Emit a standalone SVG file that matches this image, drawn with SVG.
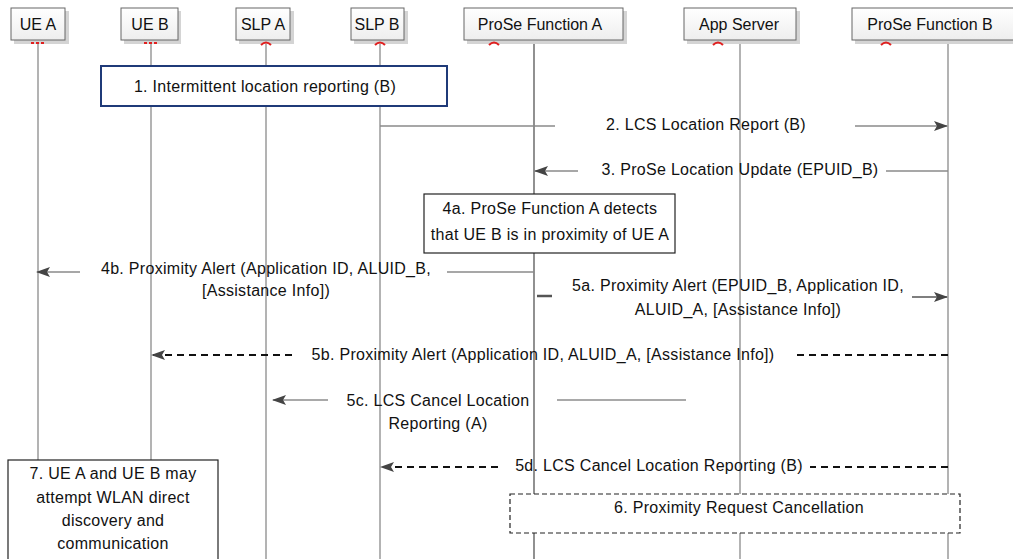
<svg xmlns="http://www.w3.org/2000/svg" width="1013" height="559" viewBox="0 0 1013 559">
<style>
text{font-family:"Liberation Sans",Arial,sans-serif;font-size:16px;fill:#111;letter-spacing:0.3px;}
.h{letter-spacing:0;}
.c{text-anchor:middle;}
.hdr{fill:url(#hg);stroke:#666;stroke-width:1;}
.shd{fill:#d4d4d4;}
.life{stroke:#8a8a8a;stroke-width:1.3;fill:none;}
.msg{stroke:#8a8a8a;stroke-width:1.5;fill:none;}
.dash{stroke:#111;stroke-width:2;stroke-dasharray:7,5;fill:none;}
.box{fill:#fff;stroke:#222;stroke-width:1.2;}
.red{stroke:#e02020;stroke-width:2;}
</style>
<defs>
<linearGradient id="hg" x1="0" y1="0" x2="0" y2="1"><stop offset="0" stop-color="#ffffff"/><stop offset="1" stop-color="#eeeeee"/></linearGradient>
<marker id="ah" markerWidth="14" markerHeight="10" refX="13" refY="5" orient="auto" markerUnits="userSpaceOnUse"><path d="M0,0 L14,5 L0,10 L3,5 z" fill="#444"/></marker>
</defs>
<rect width="1013" height="559" fill="#fff"/>
<g id="lifelines">
<line class="life" x1="38" y1="42" x2="38" y2="559"/>
<line class="life" x1="151" y1="42" x2="151" y2="559"/>
<line class="life" x1="266" y1="42" x2="266" y2="559"/>
<line class="life" x1="380" y1="42" x2="380" y2="559"/>
<line class="life" x1="534" y1="42" x2="534" y2="559" style="stroke:#555"/>
<line class="life" x1="740" y1="42" x2="740" y2="559"/>
<line class="life" x1="948" y1="42" x2="948" y2="559"/>
</g>
<g id="ueA"><rect class="shd" x="14" y="11" width="55" height="33"/><rect class="hdr" x="11" y="8" width="54" height="32"/><text class="c h" x="38" y="30">UE A</text><line class="red" x1="31" y1="43" x2="46" y2="43" stroke-dasharray="3,2"/></g>
<g id="ueB"><rect class="shd" x="124" y="11" width="57" height="33"/><rect class="hdr" x="121" y="8" width="57" height="32"/><text class="c h" x="150" y="30">UE B</text><line class="red" x1="144" y1="43" x2="159" y2="43" stroke-dasharray="3,2"/></g>
<g id="slpA"><rect class="shd" x="239" y="11" width="55" height="33"/><rect class="hdr" x="236" y="8" width="54" height="32"/><text class="c h" x="263" y="30">SLP A</text><path class="red" d="M261,45 Q266,40 271,45" fill="none"/></g>
<g id="slpB"><rect class="shd" x="354" y="11" width="54" height="33"/><rect class="hdr" x="351" y="8" width="53" height="32"/><text class="c h" x="377" y="30">SLP B</text><path class="red" d="M375,45 Q380,40 385,45" fill="none"/></g>
<g id="proseA"><rect class="shd" x="467" y="11" width="160" height="33"/><rect class="hdr" x="464" y="8" width="159" height="32"/><text class="c h" x="540" y="30">ProSe Function A</text><path class="red" d="M489,45 Q494,40 499,45" fill="none"/></g>
<g id="appServer"><rect class="shd" x="687" y="11" width="113" height="33"/><rect class="hdr" x="684" y="8" width="112" height="32"/><text class="c h" x="739" y="30">App Server</text><path class="red" d="M713,45 Q718,40 723,45" fill="none"/></g>
<g id="proseB"><rect class="shd" x="855" y="11" width="162" height="33"/><rect class="hdr" x="852" y="8" width="162" height="32"/><text class="c h" x="930" y="30">ProSe Function B</text><path class="red" d="M881,45 Q886,40 891,45" fill="none"/></g>
<g id="step1"><rect x="101" y="66" width="346" height="40" fill="#fff" stroke="#1f3a78" stroke-width="2"/><text class="c" x="265" y="92">1. Intermittent location reporting (B)</text></g>
<g id="step4a"><rect class="box" x="424" y="194" width="251" height="59"/><text class="c" x="550" y="214">4a. ProSe Function A detects</text><text class="c" x="550" y="240">that UE B is in proximity of UE A</text></g>
<g id="step6"><rect x="510" y="494" width="450" height="39" fill="#fff" stroke="#222" stroke-width="1.2" stroke-dasharray="5,3"/><text class="c" x="739" y="513">6. Proximity Request Cancellation</text></g>
<g id="step7"><rect class="box" x="8" y="460" width="210" height="105"/><text class="c" x="113" y="479">7. UE A and UE B may</text><text class="c" x="113" y="503">attempt WLAN direct</text><text class="c" x="113" y="526">discovery and</text><text class="c" x="113" y="549">communication</text></g>
<g id="connectors">
<line class="msg" x1="380" y1="126" x2="555" y2="126"/>
<line class="msg" x1="855" y1="126" x2="947" y2="126" marker-end="url(#ah)"/>
<text class="c" x="706" y="130">2. LCS Location Report (B)</text>
<line class="msg" x1="948" y1="171" x2="886" y2="171"/>
<line class="msg" x1="578" y1="171" x2="535" y2="171" marker-end="url(#ah)"/>
<text class="c" x="740" y="175">3. ProSe Location Update (EPUID_B)</text>
<line class="msg" x1="534" y1="272" x2="447" y2="272"/>
<line class="msg" x1="80" y1="272" x2="37" y2="272" marker-end="url(#ah)"/>
<text class="c" x="266" y="274">4b. Proximity Alert (Application ID, ALUID_B,</text>
<text class="c" x="266" y="296">[Assistance Info])</text>
<line x1="537" y1="296" x2="552" y2="296" stroke="#555" stroke-width="2.5"/>
<line class="msg" x1="912" y1="297" x2="947" y2="297" marker-end="url(#ah)" style="stroke:#555"/>
<text class="c" x="738" y="291">5a. Proximity Alert (EPUID_B, Application ID,</text>
<text class="c" x="738" y="315">ALUID_A, [Assistance Info])</text>
<line class="dash" x1="948" y1="355" x2="793" y2="355"/>
<line class="dash" x1="292" y1="355" x2="152" y2="355" marker-end="url(#ah)"/>
<text class="c" x="543" y="360">5b. Proximity Alert (Application ID, ALUID_A, [Assistance Info])</text>
<line class="msg" x1="686" y1="400" x2="557" y2="400" style="stroke:#555;stroke-width:1.2"/>
<line class="msg" x1="328" y1="400" x2="273" y2="400" marker-end="url(#ah)" style="stroke:#555;stroke-width:1.2"/>
<text class="c" x="438" y="406">5c. LCS Cancel Location</text>
<text class="c" x="438" y="429">Reporting (A)</text>
<line class="dash" x1="948" y1="467" x2="810" y2="467"/>
<line class="dash" x1="498" y1="467" x2="381" y2="467" marker-end="url(#ah)"/>
<text class="c" x="659" y="471">5d. LCS Cancel Location Reporting (B)</text>
</g>
</svg>
